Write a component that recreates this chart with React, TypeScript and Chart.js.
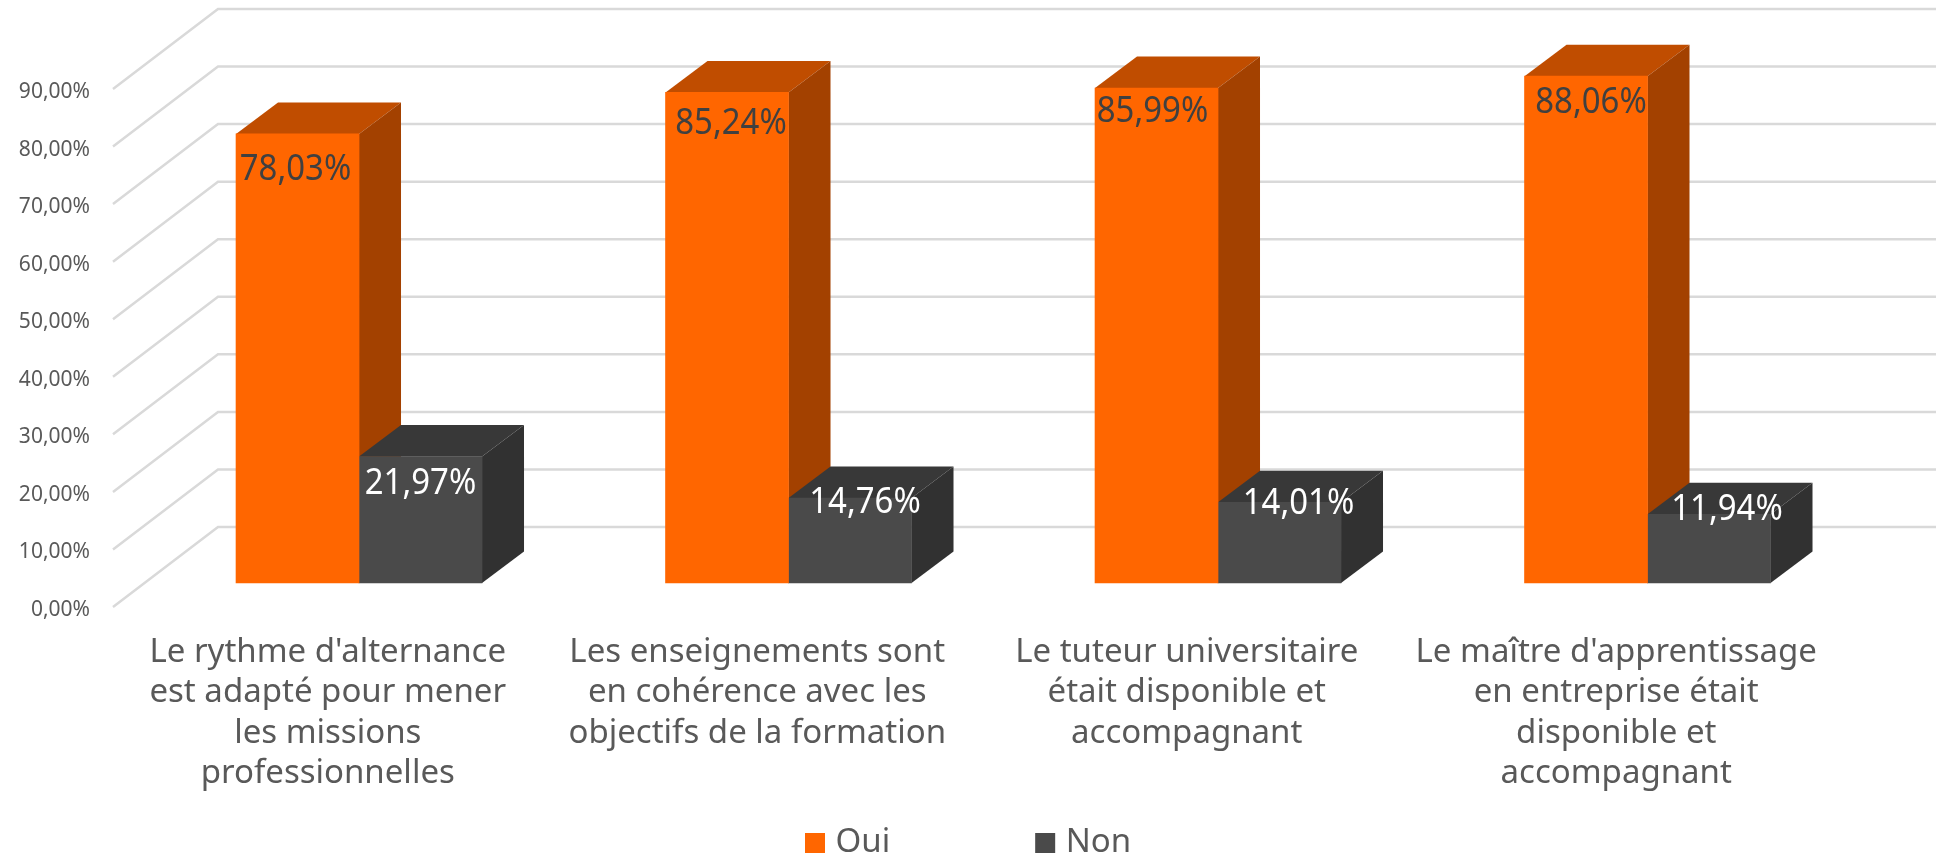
import React, { useEffect, useRef } from "react";
import { Chart, registerables } from "chart.js";

Chart.register(...registerables);

const categories: string[][] = [
  ["Le rythme d'alternance", "est adapté pour mener", "les missions", "professionnelles"],
  ["Les enseignements sont", "en cohérence avec les", "objectifs de la formation"],
  ["Le tuteur universitaire", "était disponible et", "accompagnant"],
  ["Le maître d'apprentissage", "en entreprise était", "disponible et", "accompagnant"],
];
const ouiValues = [78.03, 85.24, 85.99, 88.06];
const nonValues = [21.97, 14.76, 14.01, 11.94];
const seriesNames = ["Oui", "Non"];

// styling of the projected 3D faces
const FONT = '"Noto Sans", sans-serif';
const BAR_DEPTH = { dx: 42, dy: 31.5 };
const WALL_DEPTH = { dx: 105, dy: 80 };
const FACES = [
  { front: "#FF6600", top: "#C04D00", side: "#A34100", label: "#404040" },
  { front: "#4A4A4A", top: "#383838", side: "#313131", label: "#FFFFFF" },
];
// manual label nudges relative to the bar's top centre, as in the source chart
const LABEL_NUDGE = [
  [[-2, 36], [4, 31], [-4, 23], [5, 26]],
  [[0, 27], [15, 4], [19, 1], [18, -5]],
];

const pct = (v: number) => v.toFixed(2).replace(".", ",") + "%";

const wallPlugin = {
  id: "wall3d",
  beforeDatasetsDraw(chart: any) {
    const { ctx, chartArea, scales } = chart;
    ctx.save();
    ctx.strokeStyle = "#D9D9D9";
    ctx.lineWidth = 2.5;
    scales.y.ticks.forEach((t: any) => {
      const p = scales.y.getPixelForValue(t.value);
      ctx.beginPath();
      ctx.moveTo(chartArea.left, p);
      ctx.lineTo(chartArea.left + WALL_DEPTH.dx, p - WALL_DEPTH.dy);
      ctx.lineTo(chartArea.right + WALL_DEPTH.dx, p - WALL_DEPTH.dy);
      ctx.stroke();
    });
    // receding faces of the bars, drawn behind the front faces the library paints
    const metas = [chart.getDatasetMeta(0), chart.getDatasetMeta(1)];
    metas[0].data.forEach((_: any, i: number) => {
      metas.forEach((meta: any, d: number) => {
        const el = meta.data[i];
        const { x, y, base, width } = el.getProps(["x", "y", "base", "width"], true);
        const l = x - width / 2;
        const r = x + width / 2;
        const { dx, dy } = BAR_DEPTH;
        ctx.fillStyle = FACES[d].top;
        ctx.beginPath();
        ctx.moveTo(l, y);
        ctx.lineTo(l + dx, y - dy);
        ctx.lineTo(r + dx, y - dy);
        ctx.lineTo(r, y);
        ctx.closePath();
        ctx.fill();
        ctx.fillStyle = FACES[d].side;
        ctx.beginPath();
        ctx.moveTo(r, y);
        ctx.lineTo(r + dx, y - dy);
        ctx.lineTo(r + dx, base - dy);
        ctx.lineTo(r, base);
        ctx.closePath();
        ctx.fill();
      });
    });
    ctx.restore();
  },
  afterDatasetsDraw(chart: any) {
    const { ctx } = chart;
    ctx.save();
    ctx.textAlign = "center";
    ctx.textBaseline = "middle";
    ctx.font = `37px ${FONT}`;
    chart.data.datasets.forEach((ds: any, d: number) => {
      chart.getDatasetMeta(d).data.forEach((el: any, i: number) => {
        const { x, y } = el.getProps(["x", "y"], true);
        const [nx, ny] = LABEL_NUDGE[d][i];
        ctx.save();
        ctx.translate(x + nx, y + ny);
        ctx.scale(0.89, 1);
        ctx.fillStyle = FACES[d].label;
        ctx.fillText(pct(ds.data[i].y), 0, 0);
        ctx.restore();
      });
    });
    ctx.restore();
  },
  afterLayout(chart: any) {
    // centre of the legend row sits left of the canvas centre in the source
    const lg = chart.legend;
    const pad = lg.options.labels.padding;
    lg.left = 811 - pad;
    lg.right = 1939;
    lg.top = 826.5 - pad;
  },
};

export default function App() {
  const ref = useRef<HTMLCanvasElement>(null);
  useEffect(() => {
    const chart = new Chart(ref.current as HTMLCanvasElement, {
      type: "bar",
      data: {
        labels: categories as any,
        datasets: [ouiValues, nonValues].map((vals, d) => ({
          label: seriesNames[d],
          data: vals.map((v, i) => ({ x: i, y: v })),
          backgroundColor: FACES[d].front,
          borderWidth: 0,
          xAxisID: "xBars",
          yAxisID: "yBars",
          clip: false as any,
          barThickness: 123,
        })),
      },
      options: {
        responsive: false,
        animation: false,
        maintainAspectRatio: false,
        layout: { autoPadding: false, padding: { left: 0, top: 89, right: 108, bottom: 0 } },
        scales: {
          x: {
            type: "category",
            position: "bottom",
            offset: true,
            grid: { display: false },
            border: { display: false },
            ticks: {
              autoSkip: false,
              maxRotation: 0,
              minRotation: 0,
              padding: 17,
              color: "#595959",
              font: { family: FONT, size: 33, lineHeight: 40.5 / 33 },
            },
            afterFit(s: any) {
              s.height = 858 - 607 - 60;
            },
          },
          xBars: {
            type: "linear",
            axis: "x",
            display: false,
            offset: false,
            min: -0.5728,
            max: 3.4272,
            grid: { display: false, offset: false },
          },
          y: {
            type: "linear",
            position: "left",
            min: 0,
            max: 90,
            grid: { display: false },
            border: { display: false },
            ticks: {
              stepSize: 10,
              padding: 15,
              color: "#595959",
              font: { family: FONT, size: 21 },
              labelOffset: 3,
              callback: (v: any) => pct(Number(v)),
            },
            afterFit(s: any) {
              s.width = 113;
            },
          },
          yBars: {
            type: "linear",
            axis: "y",
            display: false,
            min: -4.17,
            max: 85.83,
          },
        } as any,
        plugins: {
          tooltip: { enabled: false },
          legend: {
            position: "bottom",
            align: "start",
            maxHeight: 60,
            labels: {
              padding: 151,
              boxWidth: 8,
              boxHeight: 8,
              color: "#595959",
              font: { family: FONT, size: 33 },
              generateLabels: (c: any) =>
                c.data.datasets.map((ds: any, d: number) => ({
                  text: ds.label,
                  fillStyle: FACES[d].front,
                  strokeStyle: FACES[d].front,
                  lineWidth: 12,
                  fontColor: "#595959",
                  datasetIndex: d,
                  hidden: false,
                })),
            },
          } as any,
        },
      },
      plugins: [wallPlugin],
    });
    return () => chart.destroy();
  }, []);
  return (
    <div style={{ position: "fixed", left: 0, top: 0, width: 1939, height: 858, background: "#fff" }}>
      <canvas ref={ref} width={1939} height={858} style={{ display: "block" }} />
    </div>
  );
}
